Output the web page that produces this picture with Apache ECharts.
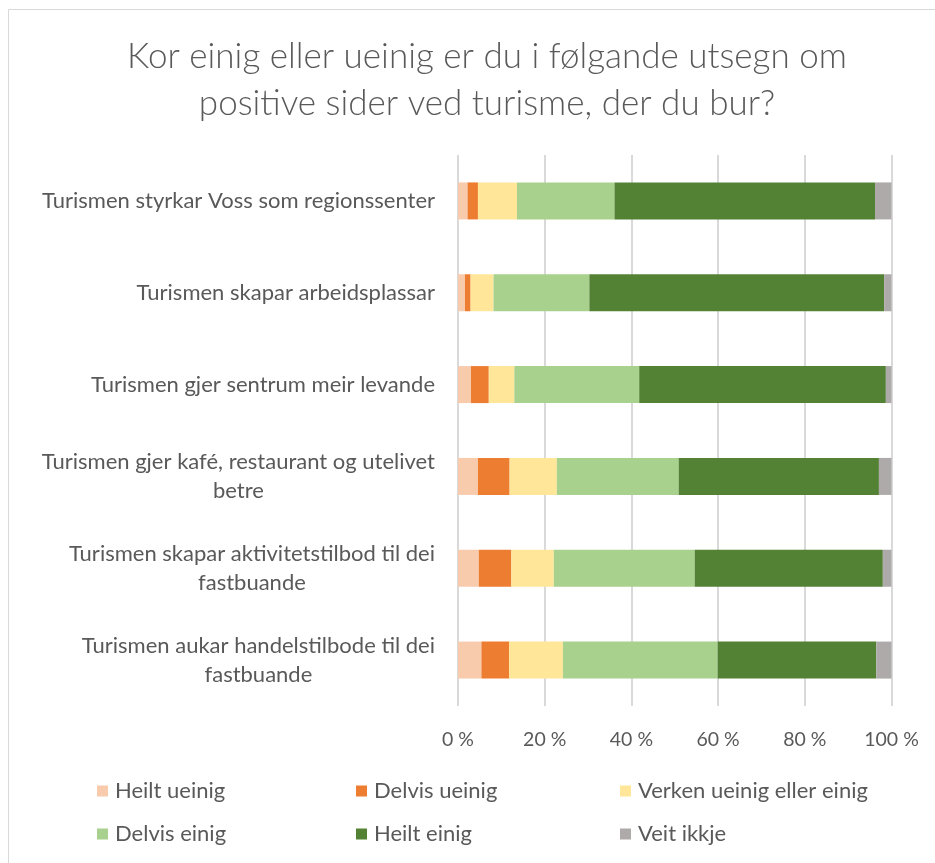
<!DOCTYPE html>
<html>
<head>
<meta charset="utf-8">
<script src="https://cdn.jsdelivr.net/npm/echarts@6/dist/echarts.min.js"></script>
<style>
html,body{margin:0;padding:0;background:#fff;}
#chart{width:935px;height:863px;}
</style>
</head>
<body>
<div id="chart"></div>
<script>
const titleText = "Kor einig eller ueinig er du i følgande utsegn om\npositive sider ved turisme, der du bur?";
const categories = [
  "Turismen styrkar Voss som regionssenter",
  "Turismen skapar arbeidsplassar",
  "Turismen gjer sentrum meir levande",
  "Turismen gjer kafé, restaurant og utelivet\nbetre",
  "Turismen skapar aktivitetstilbod til dei\nfastbuande",
  "Turismen aukar handelstilbode til dei\nfastbuande"
];
const seriesNames = ["Heilt ueinig", "Delvis ueinig", "Verken ueinig eller einig", "Delvis einig", "Heilt einig", "Veit ikkje"];
const heiltUeinig  = [2.2, 1.6, 3.0, 4.6, 4.8, 5.4];
const delvisUeinig = [2.4, 1.3, 4.1, 7.3, 7.5, 6.4];
const verken       = [9.0, 5.3, 5.9, 10.9, 9.8, 12.4];
const delvisEinig  = [22.5, 22.1, 28.8, 28.1, 32.5, 35.7];
const heiltEinig   = [60.1, 68.0, 56.9, 46.2, 43.4, 36.6];
const veitIkkje    = [3.8, 1.7, 1.3, 2.9, 2.0, 3.5];
const xTicks = [0, 20, 40, 60, 80, 100];

const values = [heiltUeinig, delvisUeinig, verken, delvisEinig, heiltEinig, veitIkkje];
const colors = ["#F8CBAD", "#ED7D31", "#FFE699", "#A9D18E", "#548235", "#AEAAAA"];
const FONT = "Lato";
const GRAY = "#595959";

const chart = echarts.init(document.getElementById('chart'), null, {renderer: 'canvas'});

const legendCol = (names, left) => ({
  orient: 'vertical', left: left, top: 779, padding: 0, itemGap: 19,
  itemWidth: 11, itemHeight: 11, icon: 'rect',
  data: names,
  textStyle: {fontFamily: FONT, fontSize: 22, color: GRAY, lineHeight: 24, padding: [0,0,0,2]}
});

const option = {
  backgroundColor: '#fff',
  animation: false,
  color: colors,
  title: {
    text: titleText,
    left: 482, top: 28, textAlign: 'center',
    textStyle: {fontFamily: FONT, fontWeight: 300, fontSize: 35, color: GRAY, lineHeight: 47}
  },
  graphic: [{
    type: 'rect', silent: true, z: -1,
    shape: {x: 8.5, y: 9.5, width: 960, height: 900},
    style: {fill: 'none', stroke: '#D9D9D9', lineWidth: 1}
  }],
  legend: [
    legendCol([seriesNames[0], seriesNames[3]], 97),
    legendCol([seriesNames[1], seriesNames[4]], 356),
    legendCol([seriesNames[2], seriesNames[5]], 620)
  ],
  grid: {left: 458, right: 43.5, top: 155, bottom: 157, containLabel: false},
  xAxis: {
    type: 'value', min: xTicks[0], max: xTicks[xTicks.length - 1], interval: 20,
    axisLine: {show: false}, axisTick: {show: false},
    splitLine: {show: true, lineStyle: {color: '#D9D9D9', width: 2}},
    axisLabel: {formatter: '{value} %', fontFamily: FONT, fontSize: 19.5, color: GRAY, margin: 24}
  },
  yAxis: {
    type: 'category', inverse: true, data: categories,
    axisLine: {show: false}, axisTick: {show: false},
    axisLabel: {
      margin: 23, align: 'right',
      fontFamily: FONT, fontSize: 22, color: GRAY,
      formatter: v => v.split('\n').map(l => '{c|' + l + '}').join('\n'),
      rich: {c: {align: 'center', fontFamily: FONT, fontSize: 22, color: GRAY, lineHeight: 29}}
    }
  },
  series: seriesNames.map((n, i) => ({
    name: n, type: 'bar', stack: 'total', barWidth: 37,
    data: values[i],
    itemStyle: {color: colors[i]}
  }))
};
chart.setOption(option);
</script>
</body>
</html>
